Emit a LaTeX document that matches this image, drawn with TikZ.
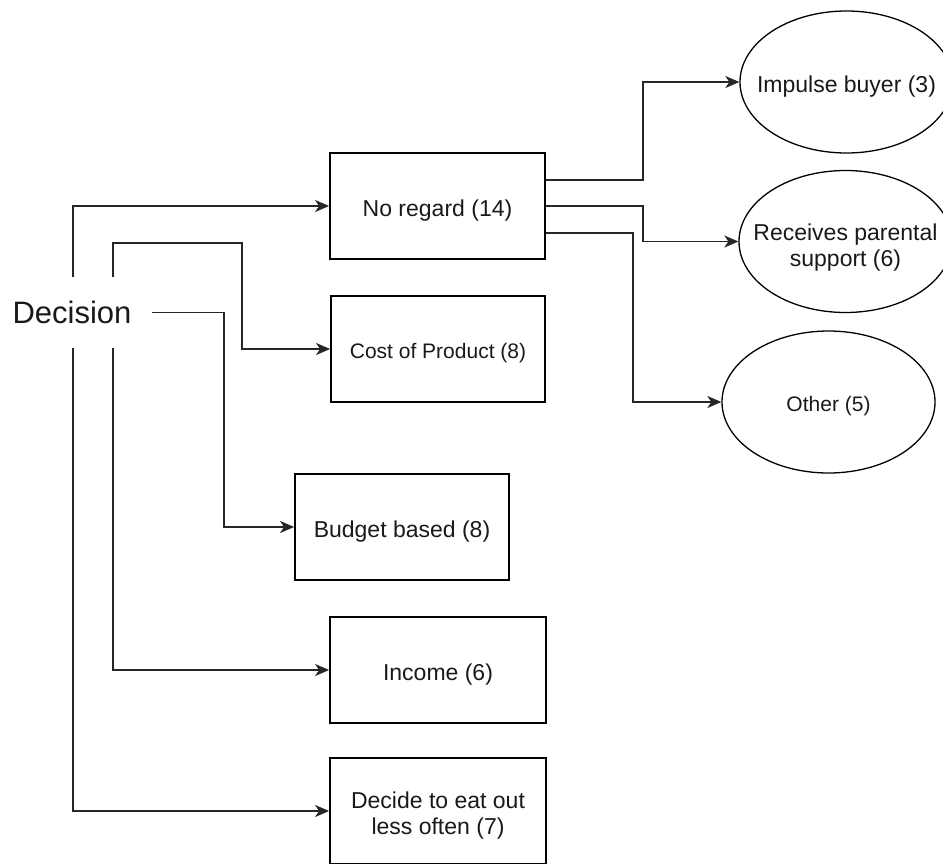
\documentclass[tikz,border=0pt]{standalone}
\usepackage{fontspec}
\setmainfont{Liberation Sans}
\usetikzlibrary{shapes.geometric,arrows.meta}
\tikzset{
  box/.style={draw=black, line width=1.8pt, rectangle, inner sep=0pt,
    minimum height=106pt},
  oval/.style={draw=black, line width=1.3pt, ellipse, inner sep=0pt,
    minimum width=213pt, minimum height=142pt},
  lbl/.style={inner sep=0pt, align=center, yshift=-4.5pt, text=black!90,
    font=\fontsize{23}{26}\selectfont},
  slbl/.style={lbl, font=\fontsize{21}{25}\selectfont},
  conn/.style={draw=black!85, line width=1.6pt,
    -{Stealth[length=14pt, width=12pt, inset=4pt]}},
  dectext/.style={inner sep=0pt, minimum width=160pt, minimum height=71pt,
    text=black!90, font=\fontsize{31}{36}\selectfont}
}
\begin{document}
\begin{tikzpicture}[x=1pt, y=-1pt]
  \useasboundingbox (0,0) rectangle (943,863);
  \clip (0,0) rectangle (943,863);

  % Decision label
  \node[dectext] (dec) at (72,312.5) {Decision};

  % First level boxes
  \node[box, minimum width=215pt, label={[lbl]center:No regard (14)}] (nr) at (437.5,206) {};
  \node[box, minimum width=214pt, label={[slbl]center:Cost of Product (8)}] (cost) at (438,349) {};
  \node[box, minimum width=214pt, label={[lbl]center:Budget based (8)}] (bud) at (402,527) {};
  \node[box, minimum width=216pt, label={[lbl]center:Income (6)}] (inc) at (438,670) {};
  \node[box, minimum width=216pt, label={[lbl]center:Decide to eat out\\less often (7)}] (dea) at (438,811) {};

  % Ellipses
  \node[oval, label={[lbl]center:Impulse buyer (3)}] (imp) at (846.5,82) {};
  \node[oval, label={[lbl, yshift=-1.5pt]center:Receives parental\\support (6)}] (rec) at (845.5,241.5) {};
  \node[oval, label={[slbl]center:Other (5)}] (oth) at (828.5,402) {};

  % Connectors from Decision
  \draw[conn] ([xshift=1pt]dec.north) |- (nr.west);
  \draw[conn] ([xshift=41pt]dec.north) |- (242,243) |- (cost.west);
  \draw[conn] (dec.east) -- (224,312.5) |- (bud.west);
  \draw[conn] ([xshift=41pt]dec.south) |- (inc.west);
  \draw[conn] ([xshift=1pt]dec.south) |- (dea.west);

  % Connectors from No regard
  \draw[conn] ([yshift=26pt]nr.east) -- (643,180) |- (imp.west);
  \draw[conn] (nr.east) -- (643,206) |- (rec.west);
  \draw[conn] ([yshift=-27pt]nr.east) -- (633,233) |- (oth.west);
\end{tikzpicture}
\end{document}
